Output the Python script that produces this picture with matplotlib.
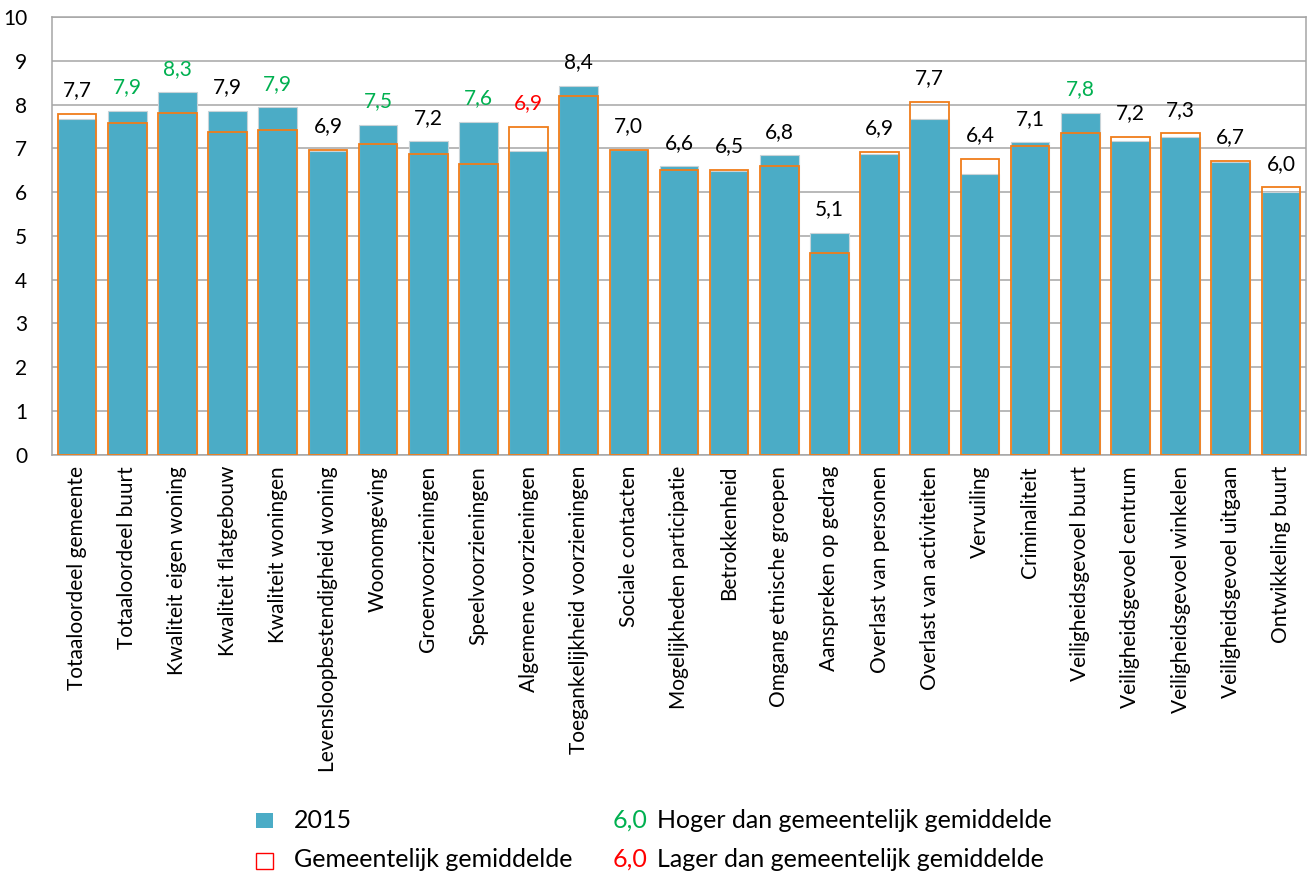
import matplotlib
matplotlib.use("Agg")
import matplotlib.pyplot as plt
from matplotlib.patches import Rectangle
import numpy as np

# Categories on the x axis.
categories = [
    "Totaaloordeel gemeente", "Totaaloordeel buurt", "Kwaliteit eigen woning",
    "Kwaliteit flatgebouw", "Kwaliteit woningen", "Levensloopbestendigheid woning",
    "Woonomgeving", "Groenvoorzieningen", "Speelvoorzieningen",
    "Algemene voorzieningen", "Toegankelijkheid voorzieningen", "Sociale contacten",
    "Mogelijkheden participatie", "Betrokkenheid", "Omgang etnische groepen",
    "Aanspreken op gedrag", "Overlast van personen", "Overlast van activiteiten",
    "Vervuiling", "Criminaliteit", "Veiligheidsgevoel buurt",
    "Veiligheidsgevoel centrum", "Veiligheidsgevoel winkelen",
    "Veiligheidsgevoel uitgaan", "Ontwikkeling buurt",
]
# Scores 2015 (blue bars).
scores_2015 = [7.66, 7.86, 8.28, 7.86, 7.94, 6.93, 7.53, 7.16, 7.60, 6.93,
               8.43, 6.96, 6.59, 6.49, 6.84, 5.07, 6.86, 7.66, 6.42, 7.14,
               7.81, 7.16, 7.26, 6.69, 6.01]
# Municipal average (orange outline).
scores_gemeente = [7.79, 7.59, 7.81, 7.37, 7.42, 6.96, 7.09, 6.87, 6.65, 7.49,
                   8.20, 6.96, 6.51, 6.51, 6.60, 4.60, 6.92, 8.06, 6.76, 7.05,
                   7.34, 7.27, 7.34, 6.71, 6.11]
# Significance: 1 = higher than average, -1 = lower, 0 = no difference.
significance = [0, 1, 1, 0, 1, 0, 1, 0, 1, -1,
                0, 0, 0, 0, 0, 0, 0, 0, 0, 0,
                1, 0, 0, 0, 0]

BLUE = "#4BACC6"
ORANGE = "#F07D1A"
GREEN = "#00B050"
RED = "#FF0000"
GRID = "#A6A6A6"
label_color = {1: GREEN, -1: RED, 0: "#000000"}

plt.rcParams["font.family"] = ["Lato", "DejaVu Sans"]

fig = plt.figure(figsize=(13.14, 8.73), dpi=100)
ax = fig.add_axes([0.0396, 0.479, 0.9543, 0.5015])

x = np.arange(len(categories))
width = 0.77
ax.bar(x, scores_2015, width=width, color=BLUE, edgecolor="#C8D3D8",
       linewidth=0.8, zorder=2)
ax.bar(x, scores_gemeente, width=width, facecolor="none", edgecolor=ORANGE,
       linewidth=1.3, zorder=3)

# Value labels above the highest of both bars.
for xi, v, g, s in zip(x, scores_2015, scores_gemeente, significance):
    txt = f"{v:.1f}".replace(".", ",")
    ax.annotate(txt, (xi, max(v, g)), xytext=(0, 17), textcoords="offset points",
                ha="center", va="center", fontsize=15, color=label_color[s])

ax.set_xlim(-0.5, len(categories) - 0.5)
ax.set_ylim(0, 10)
ax.set_yticks(range(0, 11))
ax.yaxis.grid(True, color=GRID, linewidth=1.1, zorder=0)
ax.set_axisbelow(True)
ax.set_xticks(x)
ax.set_xticklabels(categories, rotation=90, fontsize=15)
ax.tick_params(axis="y", labelsize=15, length=0, pad=18)
ax.tick_params(axis="x", length=0, pad=8)
for sp in ax.spines.values():
    sp.set_color(GRID)
    sp.set_linewidth(1.1)

# Legend drawn by hand in figure coordinates.
fig.patches.append(Rectangle((0.1948, 0.0515), 0.0129, 0.0172, facecolor=BLUE,
                             edgecolor="none", transform=fig.transFigure))
fig.patches.append(Rectangle((0.1948, 0.0046), 0.0129, 0.0183, facecolor="none",
                             edgecolor=RED, linewidth=1.0,
                             transform=fig.transFigure))
fs = 18
fig.text(0.2237, 0.0515, "2015", fontsize=fs, va="baseline")
fig.text(0.2237, 0.0069, "Gemeentelijk gemiddelde", fontsize=fs, va="baseline")
fig.text(0.4665, 0.0515, "6,0", fontsize=fs, va="baseline", color=GREEN)
fig.text(0.5000, 0.0515, "Hoger dan gemeentelijk gemiddelde", fontsize=fs, va="baseline")
fig.text(0.4665, 0.0069, "6,0", fontsize=fs, va="baseline", color=RED)
fig.text(0.5000, 0.0069, "Lager dan gemeentelijk gemiddelde", fontsize=fs, va="baseline")

fig.savefig("out.png", dpi=100)
